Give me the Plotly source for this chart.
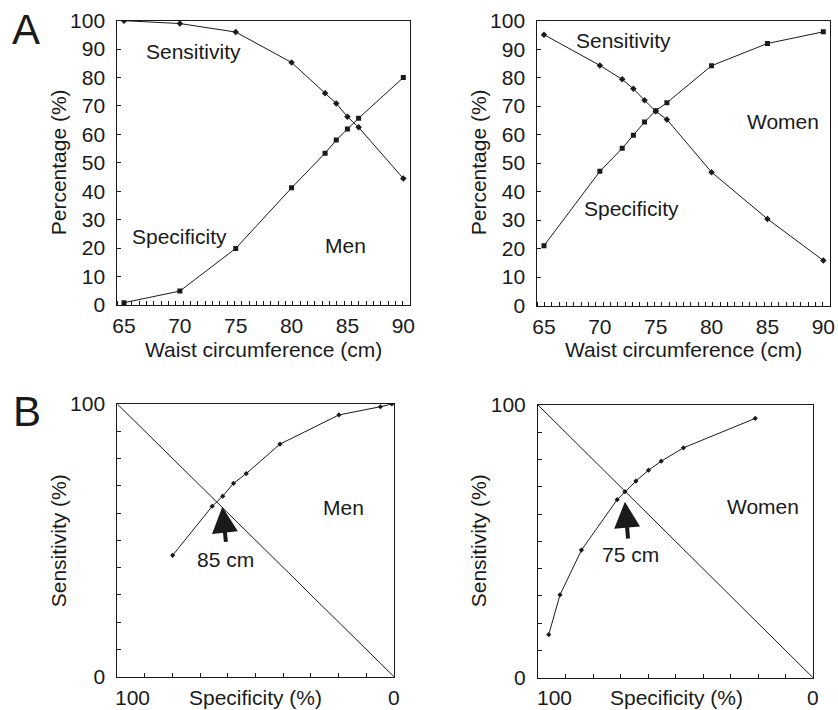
import plotly.graph_objects as go

# ---------------- data ----------------
men_waist = [65, 70, 75, 80, 83, 84, 85, 86, 90]
men_sens = [100, 99, 96, 85.3, 74.5, 70.9, 66.2, 62.5, 44.5]
men_spec = [0.8, 4.9, 19.9, 41.2, 53.4, 58.0, 61.9, 65.7, 80.0]

women_waist = [65, 70, 72, 73, 74, 75, 76, 80, 85, 90]
women_sens = [95.1, 84.3, 79.4, 76.1, 72.1, 68.2, 65.3, 46.8, 30.4, 15.8]
women_spec = [21.0, 47.1, 55.2, 59.8, 64.4, 68.4, 71.2, 84.2, 92.0, 96.1]

waist_ticks = [65, 70, 75, 80, 85, 90]
pct_ticks = [0, 10, 20, 30, 40, 50, 60, 70, 80, 90, 100]
roc_ticks = [0, 10, 20, 30, 40, 50, 60, 70, 80, 90, 100]
roc_ticktext = ["0", "", "", "", "", "", "", "", "", "", "100"]
diag = [100, 0]

# ---------------- layout helpers ----------------
W, H = 838, 710
FONT = "Liberation Sans, Arial, sans-serif"
INK = "#1a1a1a"
FS = 21


def px(x):
    return x / W


def py(y):
    return 1 - y / H


fig = go.Figure()

line_style = dict(color=INK, width=1)

# Panel A - men
fig.add_trace(go.Scatter(x=men_waist, y=men_sens, mode="lines+markers", line=line_style,
                         marker=dict(symbol="diamond", size=5, color=INK), xaxis="x", yaxis="y",
                         showlegend=False))
fig.add_trace(go.Scatter(x=men_waist, y=men_spec, mode="lines+markers", line=line_style,
                         marker=dict(symbol="square", size=5, color=INK), xaxis="x", yaxis="y",
                         showlegend=False))
# Panel A - women
fig.add_trace(go.Scatter(x=women_waist, y=women_sens, mode="lines+markers", line=line_style,
                         marker=dict(symbol="diamond", size=5, color=INK), xaxis="x2", yaxis="y2",
                         showlegend=False))
fig.add_trace(go.Scatter(x=women_waist, y=women_spec, mode="lines+markers", line=line_style,
                         marker=dict(symbol="square", size=5, color=INK), xaxis="x2", yaxis="y2",
                         showlegend=False))
# Panel B - ROC men
fig.add_trace(go.Scatter(x=men_spec, y=men_sens, mode="lines+markers", line=line_style,
                         marker=dict(symbol="diamond", size=4, color=INK), xaxis="x3", yaxis="y3",
                         showlegend=False))
fig.add_trace(go.Scatter(x=diag, y=diag, mode="lines", line=line_style, xaxis="x3", yaxis="y3",
                         showlegend=False))
# Panel B - ROC women
fig.add_trace(go.Scatter(x=women_spec, y=women_sens, mode="lines+markers", line=line_style,
                         marker=dict(symbol="diamond", size=4, color=INK), xaxis="x4", yaxis="y4",
                         showlegend=False))
fig.add_trace(go.Scatter(x=diag, y=diag, mode="lines", line=line_style, xaxis="x4", yaxis="y4",
                         showlegend=False))

tickfont = dict(family=FONT, size=FS, color=INK)
common = dict(showline=True, mirror=True, linecolor=INK, linewidth=1, showgrid=False,
              zeroline=False, tickcolor=INK, tickfont=tickfont, fixedrange=True, automargin=False)

top_x = dict(common, range=[64.4, 90.6], tickmode="array", tickvals=waist_ticks, ticks="",
             minor=dict(ticks="inside", ticklen=4, tickcolor=INK, tick0=64.4, dtick=26.2 / 40),
             ticklabelstandoff=2)
top_y = dict(common, range=[0, 100], tickmode="array", tickvals=pct_ticks, ticks="inside",
             ticklen=4, ticklabelstandoff=7)
roc_x = dict(common, range=[100, 0], tickmode="array", tickvals=roc_ticks, ticks="inside",
             ticklen=4, showticklabels=False)
roc_y = dict(common, range=[0, 100], tickmode="array", tickvals=roc_ticks, ticktext=roc_ticktext,
             ticks="inside", ticklen=4, ticklabelstandoff=7)

fig.update_layout(
    width=W, height=H,
    margin=dict(l=0, r=0, t=0, b=0, autoexpand=False),
    paper_bgcolor="white", plot_bgcolor="white",
    font=dict(family=FONT, size=FS, color=INK),
    xaxis=dict(top_x, domain=[px(117.3), px(410)], anchor="y"),
    yaxis=dict(top_y, domain=[py(305), py(20.7)], anchor="x"),
    xaxis2=dict(top_x, domain=[px(537.3), px(830)], anchor="y2"),
    yaxis2=dict(top_y, domain=[py(305.5), py(20.7)], anchor="x2"),
    xaxis3=dict(roc_x, domain=[px(117.3), px(394)], anchor="y3"),
    yaxis3=dict(roc_y, domain=[py(676.7), py(404)], anchor="x3"),
    xaxis4=dict(roc_x, domain=[px(538), px(813)], anchor="y4"),
    yaxis4=dict(roc_y, domain=[py(677.7), py(405)], anchor="x4"),
)

ann = []


def text(t, x, y, xref, yref, size=FS, xanchor="center", yanchor="middle", **kw):
    ann.append(dict(text=t, x=x, y=y, xref=xref, yref=yref, showarrow=False,
                    xanchor=xanchor, yanchor=yanchor,
                    font=dict(family=FONT, size=size, color=INK), **kw))


# Panel letters
text("A", px(26), py(30), "paper", "paper", size=42)
text("B", px(27), py(411), "paper", "paper", size=42)

# Axis titles
for cx in (58.3, 478.3):
    text("Percentage (%)", px(cx), py(162), "paper", "paper", textangle=-90)
    text("Sensitivity (%)", px(cx), py(541), "paper", "paper", textangle=-90)
for cx in (263.6, 683.6):
    text("Waist circumference (cm)", px(cx), py(349), "paper", "paper")
text("Specificity (%)", px(255.7), py(697), "paper", "paper")
text("Specificity (%)", px(676), py(697), "paper", "paper")

# ROC x tick labels
text("100", 100, py(697), "x3", "paper", xanchor="left", xshift=-4)
text("0", 0, py(697), "x3", "paper")
text("100", 100, py(697), "x4", "paper", xanchor="left", xshift=-3)
text("0", 0, py(697), "x4", "paper")

# In-plot labels (top)
text("Sensitivity", 71.2, 89.0, "x", "y")
text("Specificity", 70.0, 24.0, "x", "y")
text("Men", 84.8, 21.0, "x", "y")
text("Sensitivity", 72.1, 93.2, "x2", "y2")
text("Specificity", 72.8, 34.0, "x2", "y2")
text("Women", 86.35, 64.5, "x2", "y2")

# In-plot labels (bottom)
text("Men", 18.3, 62.2, "x3", "y3")
text("85 cm", 60.8, 42.8, "x3", "y3")
text("Women", 18.1, 62.6, "x4", "y4")
text("75 cm", 66.5, 45.0, "x4", "y4")

# Arrows
ann.append(dict(x=62.05, y=62.3, ax=60.7, ay=48.9, xref="x3", yref="y3", axref="x3", ayref="y3",
                text="", showarrow=True, arrowhead=2, arrowsize=1.3, arrowwidth=4, arrowcolor=INK))
ann.append(dict(x=68.4, y=64.5, ax=67.2, ay=50.5, xref="x4", yref="y4", axref="x4", ayref="y4",
                text="", showarrow=True, arrowhead=2, arrowsize=1.3, arrowwidth=4, arrowcolor=INK))

fig.update_layout(annotations=ann)

fig.write_html(
    "out.html",
    config={"displayModeBar": False},
    post_script="document.body.style.margin='0';document.body.style.overflow='hidden';",
)
